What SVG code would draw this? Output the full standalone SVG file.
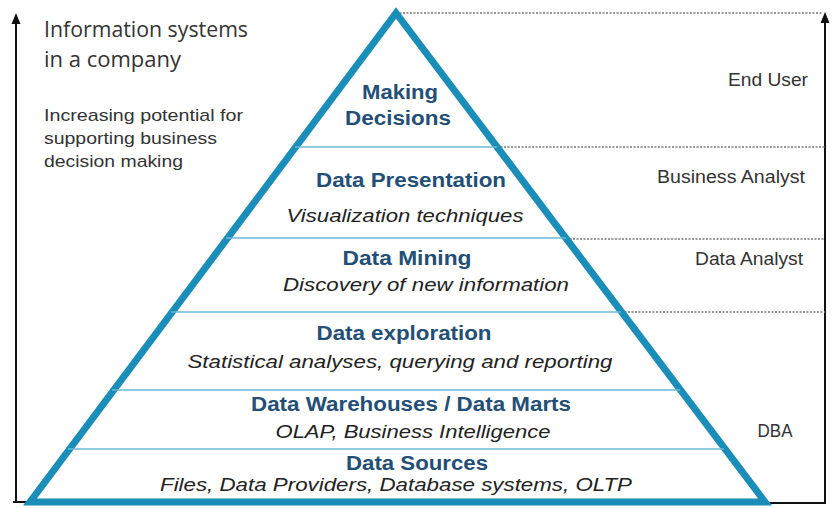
<svg xmlns="http://www.w3.org/2000/svg" width="838" height="508" viewBox="0 0 838 508">
<defs>
<style>
.axis{stroke:#111;stroke-width:2;fill:none}
.head{fill:#111}
.dot{stroke:#777;stroke-width:1.5;stroke-dasharray:2 1.5;fill:none}
.layer{stroke:#6bb8d6;stroke-width:1.5;fill:none}
.tri{stroke:#1a8db8;stroke-width:7;fill:#fff;stroke-linejoin:miter}
.h{font-family:"Liberation Sans",Arial,sans-serif;font-weight:bold;font-size:20px;fill:#234e76;text-anchor:middle}
.s{font-family:"Liberation Sans",Arial,sans-serif;font-style:italic;font-size:19px;fill:#222;text-anchor:middle}
.r{font-family:"Liberation Sans",Arial,sans-serif;font-size:17.5px;fill:#333;text-anchor:middle}
.t{font-family:"Open Sans","DejaVu Sans",sans-serif;font-size:21px;fill:#333}
.u{font-family:"Liberation Sans",Arial,sans-serif;font-size:17px;fill:#333}
</style>
</defs>
<g id="connectors">
<path class="axis" d="M16,503 L16,22"/>
<path class="head" d="M16,13 L11.5,24 L20.5,24 Z"/>
<path class="axis" d="M13,502 L30,502"/>
<path class="axis" d="M825,503 L825,22"/>
<path class="head" d="M825,12 L820.5,23 L829.5,23 Z"/>
<path class="axis" d="M763,503 L826,503"/>
<path class="dot" d="M396,13 L822,13"/>
<path class="dot" d="M497,147 L825,147"/>
<path class="dot" d="M566,239 L825,239"/>
<path class="dot" d="M621,312 L825,312"/>
</g>
<g id="pyramid">
<path class="tri" d="M396,13 L765,502 L30,502 Z"/>
<path class="layer" d="M295,147 L497,147"/>
<path class="layer" d="M226,238 L566,238"/>
<path class="layer" d="M171,312 L621,312"/>
<path class="layer" d="M112,390 L680,390"/>
<path class="layer" d="M68,449 L724,449"/>
</g>
<g id="title">
<text class="t" x="44" y="37" textLength="204" lengthAdjust="spacingAndGlyphs">Information systems</text>
<text class="t" x="44" y="67" textLength="137" lengthAdjust="spacingAndGlyphs">in a company</text>
<text class="u" x="44" y="121" textLength="199" lengthAdjust="spacingAndGlyphs">Increasing potential for</text>
<text class="u" x="44" y="144" textLength="173" lengthAdjust="spacingAndGlyphs">supporting business</text>
<text class="u" x="44" y="167" textLength="139" lengthAdjust="spacingAndGlyphs">decision making</text>
</g>
<g id="making-decisions">
<text class="h" x="400" y="99" textLength="76" lengthAdjust="spacingAndGlyphs">Making</text>
<text class="h" x="398" y="125" textLength="106" lengthAdjust="spacingAndGlyphs">Decisions</text>
</g>
<g id="data-presentation">
<text class="h" x="411" y="187" textLength="190" lengthAdjust="spacingAndGlyphs">Data Presentation</text>
<text class="s" x="405" y="222" textLength="237" lengthAdjust="spacingAndGlyphs">Visualization techniques</text>
</g>
<g id="data-mining">
<text class="h" x="407" y="265" textLength="129" lengthAdjust="spacingAndGlyphs">Data Mining</text>
<text class="s" x="426" y="291" textLength="286" lengthAdjust="spacingAndGlyphs">Discovery of new information</text>
</g>
<g id="data-exploration">
<text class="h" x="404" y="340" textLength="175" lengthAdjust="spacingAndGlyphs">Data exploration</text>
<text class="s" x="400" y="368" textLength="425" lengthAdjust="spacingAndGlyphs">Statistical analyses, querying and reporting</text>
</g>
<g id="data-warehouses">
<text class="h" x="411" y="411" textLength="320" lengthAdjust="spacingAndGlyphs">Data Warehouses / Data Marts</text>
<text class="s" x="413" y="438" textLength="275" lengthAdjust="spacingAndGlyphs">OLAP, Business Intelligence</text>
</g>
<g id="data-sources">
<text class="h" x="417" y="470" textLength="142" lengthAdjust="spacingAndGlyphs">Data Sources</text>
<text class="s" x="396" y="491" textLength="472" lengthAdjust="spacingAndGlyphs">Files, Data Providers, Database systems, OLTP</text>
</g>
<g id="roles">
<text class="r" x="768" y="86" textLength="80" lengthAdjust="spacingAndGlyphs">End User</text>
<text class="r" x="731" y="183" textLength="148" lengthAdjust="spacingAndGlyphs">Business Analyst</text>
<text class="r" x="749" y="265" textLength="108" lengthAdjust="spacingAndGlyphs">Data Analyst</text>
<text class="r" x="775" y="437" textLength="35" lengthAdjust="spacingAndGlyphs">DBA</text>
</g>
</svg>
